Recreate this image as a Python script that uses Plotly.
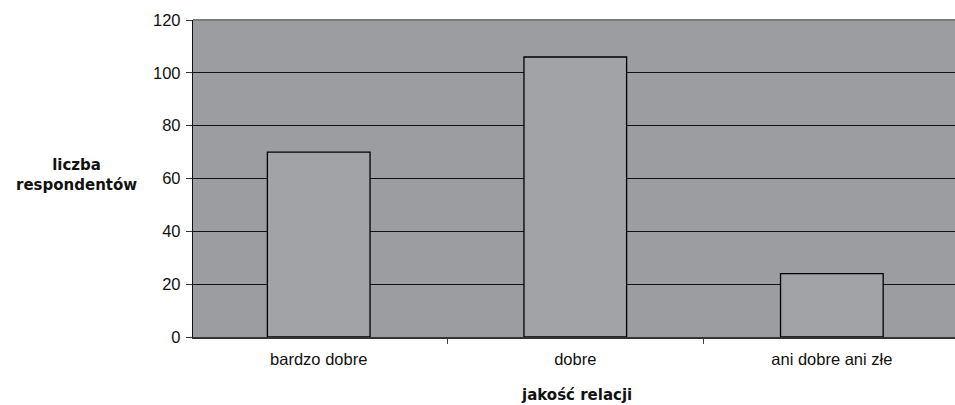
import plotly.graph_objects as go

categories = ["bardzo dobre", "dobre", "ani dobre ani złe"]
values = [70, 106, 24]
y_ticks = [0, 20, 40, 60, 80, 100, 120]

fig = go.Figure()
fig.add_trace(go.Bar(
    x=categories, y=values,
    marker=dict(color="#a1a3a7", line=dict(color="#000000", width=1.3)),
    width=0.4,
))

fig.update_layout(
    width=955, height=405,
    margin=dict(l=193, r=0, t=20, b=68),
    paper_bgcolor="#ffffff",
    plot_bgcolor="#9b9da1",
    showlegend=False,
    font=dict(family="Liberation Sans, Arial, sans-serif", size=16, color="#111111"),
    xaxis=dict(
        type="category",
        range=[-0.49, 2.48],
        tickson="boundaries",
        ticks="outside", ticklen=5, tickcolor="#444444", tickwidth=1,
        showline=True, linecolor="#333333", linewidth=1.5,
        showgrid=False,
        tickfont=dict(size=16.5),
        ticklabelstandoff=6,
    ),
    yaxis=dict(
        range=[0, 120],
        tickvals=y_ticks,
        ticks="outside", ticklen=6, tickcolor="#333333", tickwidth=1,
        showline=True, linecolor="#111111", linewidth=1.3,
        showgrid=True, gridcolor="#111111", gridwidth=1.3,
        zeroline=False,
        tickfont=dict(size=16.5),
        ticklabelstandoff=2,
    ),
    shapes=[dict(type="line", xref="paper", yref="paper", x0=0, x1=1, y0=1, y1=1,
                 line=dict(color="#7a7c80", width=2))],
    annotations=[
        dict(text="<b>liczba<br>respondentów</b>", xref="paper", yref="paper",
             x=-0.1535, y=0.511, xanchor="center", yanchor="middle", showarrow=False,
             font=dict(family="DejaVu Sans, sans-serif", size=15, color="#111111")),
        dict(text="<b>jakość relacji</b>", xref="paper", yref="paper",
             x=0.503, y=-0.183, xanchor="center", yanchor="middle", showarrow=False,
             font=dict(family="DejaVu Sans, sans-serif", size=15, color="#111111")),
    ],
)

fig.write_html("out.html", config={"displayModeBar": False},
               post_script="document.body.style.margin='0';document.body.style.overflow='hidden';")
